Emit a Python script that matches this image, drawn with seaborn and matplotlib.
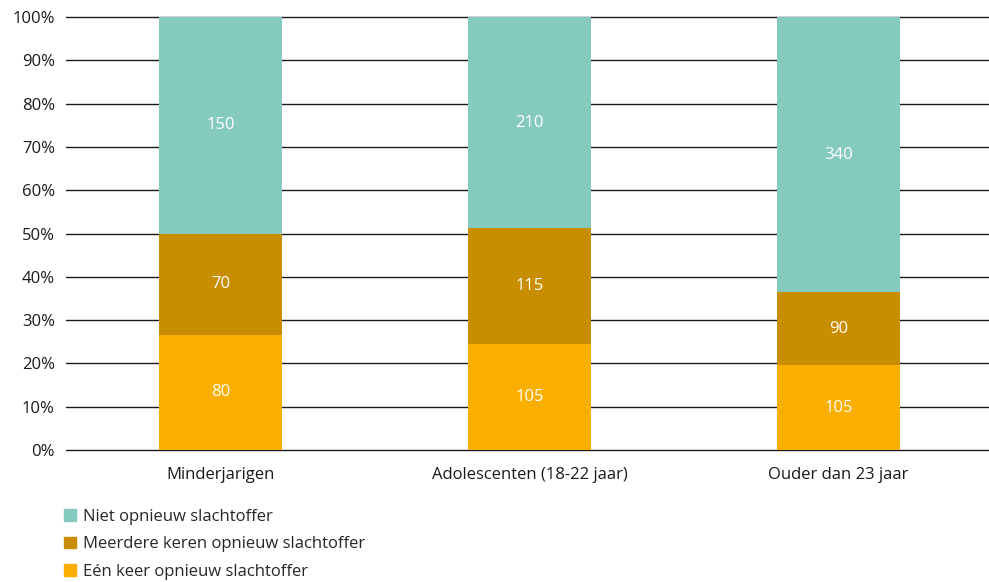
import numpy as np
import pandas as pd
import matplotlib
matplotlib.use("Agg")
import matplotlib.pyplot as plt
import seaborn as sns
from matplotlib.patches import Patch
from matplotlib.ticker import PercentFormatter

categories = ["Minderjarigen", "Adolescenten (18-22 jaar)", "Ouder dan 23 jaar"]
een_keer = [80, 105, 105]
meerdere = [70, 115, 90]
niet = [150, 210, 340]
series_names = ["Eén keer opnieuw slachtoffer", "Meerdere keren opnieuw slachtoffer", "Niet opnieuw slachtoffer"]
colors = ["#F9AE00", "#C98D00", "#85CABF"]

sns.set_theme(style="white")
plt.rcParams["font.family"] = ["Open Sans", "DejaVu Sans"]
FS = 12

df = pd.DataFrame({"cat": categories, "een": een_keer, "meer": meerdere, "niet": niet})
tot = df[["een", "meer", "niet"]].sum(axis=1)
pct = df[["een", "meer", "niet"]].div(tot, axis=0) * 100

fig = plt.figure(figsize=(9.89, 5.82), dpi=100)
ax = fig.add_axes([66 / 989, 1 - 450 / 582, (993 - 66) / 989, 433 / 582])

for y in range(0, 101, 10):
    ax.axhline(y, color="#1a1a1a", lw=1.0, zorder=0, clip_on=False)

bottom = np.zeros(len(categories))
cols = ["een", "meer", "niet"]
for i, c in enumerate(cols):
    sns.barplot(x=df["cat"], y=pct[c], color=colors[i], width=0.4, bottom=bottom,
                ax=ax, zorder=2, edgecolor="none", saturation=1)
    for j in range(len(categories)):
        ax.text(j, bottom[j] + pct[c].iloc[j] / 2, str(df[c].iloc[j]), ha="center", va="center",
                color="white", fontsize=FS, zorder=3)
    bottom = bottom + pct[c].values

ax.set_xlim(-0.5, 2.5)
ax.set_ylim(0, 100)
ax.set_yticks(range(0, 101, 10))
ax.yaxis.set_major_formatter(PercentFormatter(decimals=0))
ax.set_xlabel("")
ax.set_ylabel("")
for s in ax.spines.values():
    s.set_visible(False)
ax.tick_params(axis="both", length=0, labelsize=FS, colors="#1a1a1a")
ax.tick_params(axis="y", pad=8)
ax.tick_params(axis="x", pad=12)

handles = [Patch(color=colors[2]), Patch(color=colors[1]), Patch(color=colors[0])]
labels = [series_names[2], series_names[1], series_names[0]]
fig.legend(handles, labels, loc="upper left", bbox_to_anchor=(64 / 989, 1 - 509 / 582),
           frameon=False, fontsize=FS, handlelength=0.7, handleheight=0.7,
           handletextpad=0.45, labelspacing=0.68, borderpad=0, borderaxespad=0)

fig.savefig("out.png", dpi=100)
